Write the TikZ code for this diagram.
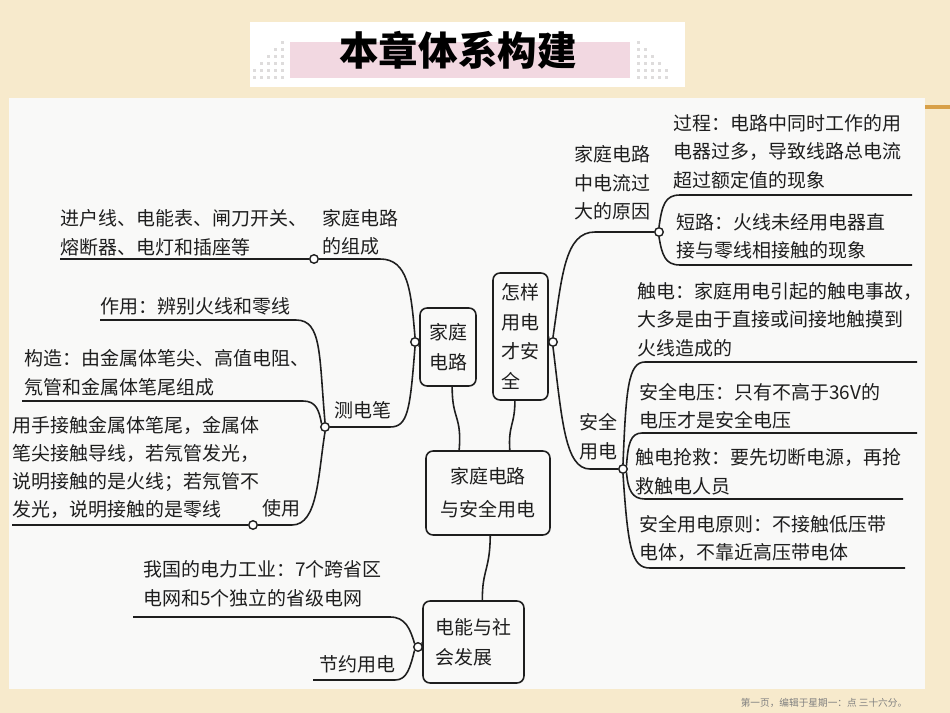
\documentclass[tikz,border=0pt]{standalone}
\usepackage{fontspec}
\newfontfamily\cjk{Noto Sans CJK SC}
\usetikzlibrary{positioning}
\definecolor{parch}{RGB}{247,234,204}
\definecolor{panel}{RGB}{249,249,248}
\definecolor{bar}{RGB}{242,216,225}
\definecolor{chip}{RGB}{222,220,220}
\definecolor{trim}{RGB}{216,160,72}
\definecolor{ink}{RGB}{30,30,30}
\tikzset{
  box/.style={draw=ink, line width=0.9pt, rounded corners=4pt, align=center, inner sep=0pt, text=ink, font=\cjk\fontsize{10.8}{17}\selectfont},
  leaf/.style={anchor=south west, align=left, inner sep=0pt, text=ink, font=\cjk\fontsize{10.8}{16}\selectfont},
  knot/.style={circle, draw=ink, fill=white, line width=0.8pt, inner sep=0pt, minimum size=0.17cm},
  link/.style={draw=ink, line width=0.9pt},
}
\begin{document}
\begin{tikzpicture}[x=0.02cm, y=-0.02cm]
\useasboundingbox (0,0) rectangle (950,713);
\fill[parch] (0,0) rectangle (950,713);
\fill[panel] (9,98) rectangle (925,689);
\draw[trim, line width=2pt] (925,107) -- (950,107);
\fill[white] (250,22) rectangle (685,87);
\fill[bar] (290,42) rectangle (630,78);
\foreach \i in {0,...,4}{
  \pgfmathtruncatemacro\nl{\i+1}
  \foreach \j in {0,...,\nl} \fill[chip] (253+7*\i,76-7*\j) rectangle ++(3,3);
  \pgfmathtruncatemacro\nr{5-\i}
  \foreach \j in {0,...,\nr} \fill[chip] (637+7*\i,76-7*\j) rectangle ++(3,3);
}
\node[text=black, font=\cjk\bfseries\fontsize{22.5}{24}\selectfont] (title) at (458,50) {本章体系构建};
\node[text=gray, font=\cjk\fontsize{5.5}{6}\selectfont] (foot) at (824,703) {第一页，编辑于星期一：点 三十六分。};

\node[box, minimum width=2.48cm, minimum height=1.68cm, font=\cjk\fontsize{10.8}{19}\selectfont] (cen) at (488,493) {家庭电路\\与安全用电};
\node[box, minimum width=1.12cm, minimum height=1.56cm] (hb) at (448,347) {家庭\\电路};
\node[box, align=left, minimum width=1.1cm, minimum height=2.54cm] (zy) at (520.5,336.5) {怎样\\用电\\才安\\全};
\node[box, align=left, minimum width=2.02cm, minimum height=1.64cm] (dnb) at (473.5,642) {电能与社\\会发展};

\node[knot] (hk) at (415,342) {};
\node[knot] (zc) at (314,259) {};
\node[knot] (cb) at (325,427) {};
\node[knot] (sy) at (253,525) {};
\node[knot] (dn) at (418,647) {};
\node[knot] (ry) at (553,342) {};
\node[knot] (gd) at (659,232) {};
\node[knot] (aq) at (623,469) {};

\coordinate (zcL) at (60,259);
\coordinate (zyL) at (100,320);
\coordinate (gzL) at (22,401);
\coordinate (syL) at (12,525);
\coordinate (dwL) at (133,617);
\coordinate (jyL) at (313,680);
\coordinate (gcR) at (912,195);
\coordinate (dlR) at (912,265);
\coordinate (cdR) at (917,362);
\coordinate (dyR) at (917,433);
\coordinate (qjR) at (903,499);
\coordinate (yzR) at (905,568);

\draw[link] (hb.-84) .. controls (452,420) and (462,415) .. (cen.124);
\draw[link] (zy.-95) .. controls (515,425) and (508,425) .. (cen.63);
\draw[link] (cen.-87) .. controls (490,570) and (482,570) .. (dnb.78);
\draw[link] (hk.east) -- (hb.west);
\draw[link] (zy.east) -- (ry.west);
\draw[link] (dnb.west) -- (dn.east);

\draw[link] (hk.north) .. controls (411,290) and (408,259) .. (380,259) -- (zc.east);
\draw[link] (zc.west) -- (zcL);
\draw[link] (hk.south) .. controls (410,410) and (408,427) .. (390,427) -- (cb.east);
\draw[link] (cb.north) .. controls (319,355) and (322,320) .. (296,320) -- (zyL);
\draw[link] (cb.north west) .. controls (319,410) and (316,401) .. (303,401) -- (gzL);
\draw[link] (cb.south) .. controls (318,475) and (318,525) .. (292,525) -- (sy.east);
\draw[link] (sy.west) -- (syL);
\draw[link] (dn.north west) .. controls (410,628) and (405,617) .. (390,617) -- (dwL);
\draw[link] (dn.south west) .. controls (410,668) and (407,680) .. (395,680) -- (jyL);
\draw[link] (ry.north) .. controls (562,275) and (565,232) .. (595,232) -- (gd.west);
\draw[link] (ry.south) .. controls (562,420) and (565,469) .. (590,469) -- (aq.west);
\draw[link] (gd.north) .. controls (662,205) and (665,195) .. (680,195) -- (gcR);
\draw[link] (gd.south) .. controls (662,255) and (665,265) .. (680,265) -- (dlR);
\draw[link] (aq.north) .. controls (626,390) and (628,362) .. (645,362) -- (cdR);
\draw[link] (aq.north east) .. controls (628,445) and (630,433) .. (642,433) -- (dyR);
\draw[link] (aq.south east) .. controls (628,490) and (632,499) .. (645,499) -- (qjR);
\draw[link] (aq.south) .. controls (628,550) and (632,568) .. (650,568) -- (yzR);

\node[leaf] (zct) at (322,256) {家庭电路\\的组成};
\node[leaf] (zcx) at (60,256) {进户线、电能表、闸刀开关、\\熔断器、电灯和插座等};
\node[leaf] (cbt) at (334,419) {测电笔};
\node[leaf] (zyx) at (100,316) {作用：辨别火线和零线};
\node[leaf] (gzx) at (24,396) {构造：由金属体笔尖、高值电阻、\\氖管和金属体笔尾组成};
\node[leaf] (syt) at (262,517) {使用};
\node[leaf] (syx) at (12,519) {用手接触金属体笔尾，金属体\\笔尖接触导线，若氖管发光，\\说明接触的是火线；若氖管不\\发光，说明接触的是零线};
\node[leaf] (dwx) at (143,607) {我国的电力工业：7个跨省区\\电网和5个独立的省级电网};
\node[leaf] (jyt) at (319,673) {节约用电};
\node[leaf] (gdt) at (574,220) {家庭电路\\中电流过\\大的原因};
\node[leaf] (gcx) at (673,189) {过程：电路中同时工作的用\\电器过多，导致线路总电流\\超过额定值的现象};
\node[leaf] (dlx) at (676,260) {短路：火线未经用电器直\\接与零线相接触的现象};
\node[leaf] (aqt) at (579,460) {安全\\用电};
\node[leaf] (cdx) at (637,357) {触电：家庭用电引起的触电事故，\\大多是由于直接或间接地触摸到\\火线造成的};
\node[leaf] (dyx) at (639,429) {安全电压：只有不高于36V的\\电压才是安全电压};
\node[leaf] (qjx) at (635,495) {触电抢救：要先切断电源，再抢\\救触电人员};
\node[leaf] (yzx) at (639,562) {安全用电原则：不接触低压带\\电体，不靠近高压带电体};
\end{tikzpicture}
\end{document}
